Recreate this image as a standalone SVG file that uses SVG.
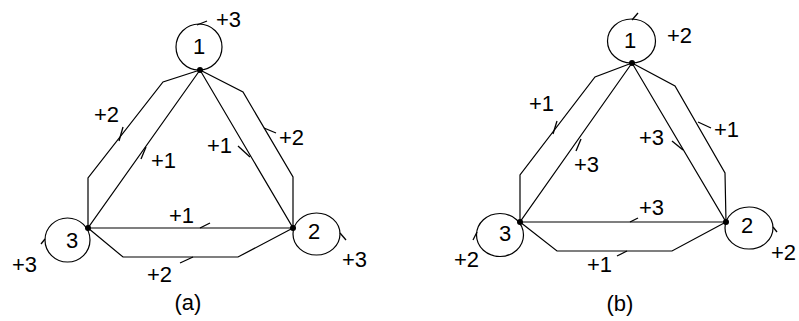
<svg xmlns="http://www.w3.org/2000/svg" width="799" height="321" viewBox="0 0 799 321">
<style>
.e{fill:none;stroke:#000;stroke-width:1.2}
.c{fill:none;stroke:#000;stroke-width:1.2}
.t{fill:none;stroke:#000;stroke-width:1.3}
.d{fill:#000}
text{font-family:"Liberation Sans",Arial,sans-serif;font-size:22px;fill:#000}
.m{text-anchor:middle}
</style>
<rect width="799" height="321" fill="#fff"/>
<g id="connectors">
  <!-- (a) -->
  <path class="c" d="M200,70 L88,228 L293,228 Z"/>
  <path class="c" d="M200,70 L163,82 L88,178 L88,228"/>
  <path class="c" d="M200,70 L243,92 L293,177 L293,228"/>
  <path class="c" d="M88,228 L123,257 L238,257 L293,228"/>
  <!-- (b) -->
  <path class="c" d="M632,63 L520,222 L726,222 Z"/>
  <path class="c" d="M632,63 L595,77 L520,175 L520,222"/>
  <path class="c" d="M632,63 L675,86 L725,173 L726,222"/>
  <path class="c" d="M520,222 L557,251 L672,251 L726,222"/>
  <!-- arrow ticks (a) -->
  <path class="t" d="M197,25 L207,21"/>
  <path class="t" d="M41,244 L45,239"/>
  <path class="t" d="M340,233 L346,240"/>
  <path class="t" d="M123,127 L119,141"/>
  <path class="t" d="M141,159 L146,147"/>
  <path class="t" d="M238,146 L250,157"/>
  <path class="t" d="M264,128 L276,133"/>
  <path class="t" d="M200,228 L210,223"/>
  <path class="t" d="M180,263 L193,257"/>
  <!-- arrow ticks (b) -->
  <path class="t" d="M632,20 L638,13"/>
  <path class="t" d="M473,240 L477,232"/>
  <path class="t" d="M773,227 L777,232"/>
  <path class="t" d="M557,121 L553,134"/>
  <path class="t" d="M576,151 L581,139"/>
  <path class="t" d="M698,122 L711,128"/>
  <path class="t" d="M672,141 L683,150"/>
  <path class="t" d="M630,222 L638,218"/>
  <path class="t" d="M617,256 L627,251"/>
  <!-- labels (a) -->
  <text x="216" y="27">+3</text>
  <text x="94" y="122">+2</text>
  <text x="151" y="168">+1</text>
  <text x="207" y="153">+1</text>
  <text x="279" y="145">+2</text>
  <text x="169" y="223">+1</text>
  <text x="147" y="282">+2</text>
  <text x="12" y="272">+3</text>
  <text x="342" y="267">+3</text>
  <!-- labels (b) -->
  <text x="667" y="43">+2</text>
  <text x="529" y="111">+1</text>
  <text x="574" y="172">+3</text>
  <text x="639" y="145">+3</text>
  <text x="714" y="137">+1</text>
  <text x="639" y="215">+3</text>
  <text x="587" y="272">+1</text>
  <text x="454" y="267">+2</text>
  <text x="771" y="260">+2</text>
</g>
<g id="a1">
  <ellipse class="e" cx="199" cy="47" rx="23" ry="23"/>
  <text class="m" x="199" y="54">1</text>
  <circle class="d" cx="200" cy="70" r="3"/>
</g>
<g id="a2">
  <ellipse class="e" cx="316.5" cy="234" rx="23.5" ry="21"/>
  <text class="m" x="314" y="239">2</text>
  <circle class="d" cx="293" cy="228" r="3"/>
</g>
<g id="a3">
  <ellipse class="e" cx="67.5" cy="240" rx="22.5" ry="22"/>
  <text class="m" x="72" y="248">3</text>
  <circle class="d" cx="88" cy="228" r="3"/>
</g>
<g id="b1">
  <ellipse class="e" cx="631.5" cy="41" rx="24" ry="22"/>
  <text class="m" x="630" y="48">1</text>
  <circle class="d" cx="632" cy="63" r="3"/>
</g>
<g id="b2">
  <ellipse class="e" cx="749" cy="228" rx="24" ry="21"/>
  <text class="m" x="747" y="233">2</text>
  <circle class="d" cx="726" cy="222" r="3"/>
</g>
<g id="b3">
  <ellipse class="e" cx="500" cy="235" rx="23.5" ry="21.5"/>
  <text class="m" x="505" y="241">3</text>
  <circle class="d" cx="520" cy="222" r="3"/>
</g>
<g id="captions">
  <text class="m" x="188" y="310">(a)</text>
  <text class="m" x="620" y="311">(b)</text>
</g>
</svg>
